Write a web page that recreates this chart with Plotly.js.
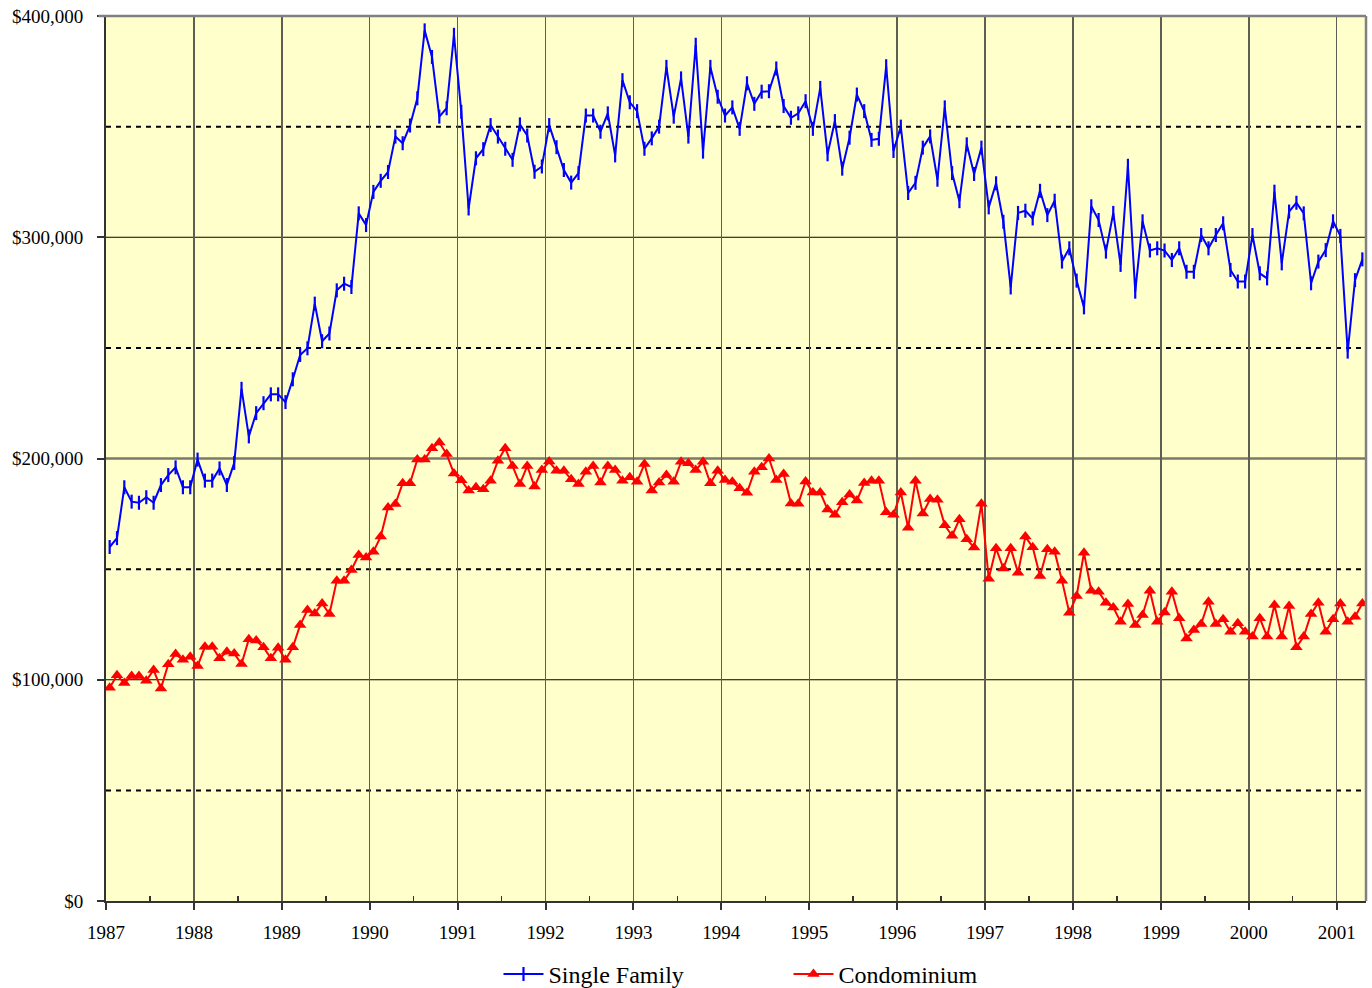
<!DOCTYPE html>
<html>
<head>
<meta charset="utf-8">
<script src="https://cdn.plot.ly/plotly-3.0.1.min.js"></script>
<style>
html,body{margin:0;padding:0;background:#ffffff;}
#chart{width:1372px;height:988px;}
</style>
</head>
<body>
<div id="chart"></div>
<script>
// Monthly median prices (thousands of dollars), Jan 1987 - Apr 2001
const startYear = 1987;

const singleFamily = [
  160, 164, 187, 180.5, 180, 182.5, 180, 188, 192.5, 196, 187, 187,
  199.5, 190, 190, 195.5, 188, 198, 231.5, 210, 220.5, 225, 229, 229,
  225.5, 235.8, 246.8, 249.8, 270, 253, 256.5, 276, 279, 277.5, 310.8, 305.5,
  320.5, 325.5, 329.5, 345.5, 342.5, 350.5, 362.8, 393.5, 381.5, 354.5, 358.3, 391.5,
  356.7, 313, 335.7, 339.8, 350.7, 345.5, 340, 335, 351, 346, 329.6, 332,
  350.7, 340.7, 330.4, 324.7, 329, 355, 355, 347.7, 356, 337, 371, 361,
  357, 340, 344.7, 350, 377, 354.5, 371.8, 345.5, 387, 338.7, 377, 363.5,
  355, 358.7, 349, 369.6, 360.3, 365.8, 366, 376.3, 359.3, 354, 356, 361.5,
  349, 367.5, 337.5, 352.5, 331, 345, 364.5, 357, 344, 344.5, 377.3, 339,
  350, 320, 324.6, 340.5, 345.6, 326, 358.7, 329, 316.3, 342, 328.6, 340.5,
  313.5, 324.4, 307, 277.3, 311, 312, 308.5, 321, 310, 316.5, 289, 295,
  280.4, 268.3, 314, 307.8, 293.5, 311, 287.5, 332.3, 275.4, 307.2, 294, 295,
  294, 289.7, 295, 284.4, 284.4, 301, 295, 301, 306.3, 285.2, 280, 280,
  301, 283.7, 281.4, 320.6, 288.2, 311.6, 315.6, 310.8, 279.2, 289, 294.2, 307.2,
  300.6, 248.3, 280.6, 290
];

const condominium = [
  96.4, 102, 98.5, 101.7, 101.7, 99.6, 104.4, 96.1, 107, 111.6, 109, 110.4,
  106.2, 114.9, 114.9, 109.7, 112.7, 111.9, 107.1, 118.3, 117.7, 114.7, 109.7, 114.5,
  109, 114.7, 124.7, 131.5, 130, 134.5, 129.7, 144.8, 144.8, 149.6, 156.4, 155.3,
  157.9, 164.7, 177.9, 179.4, 188.8, 188.8, 199.6, 199.6, 204.6, 207.2, 202, 193.2,
  190.2, 185.5, 187, 186.1, 190, 199, 204.6, 196.6, 188.5, 196.6, 187.3, 194.8,
  198.6, 194.5, 194.5, 190.6, 188.5, 194, 196.6, 189.1, 196.6, 194.8, 190, 191.5,
  189.5, 197.5, 185.5, 189.2, 192.5, 189.5, 198.5, 197.8, 194.8, 198.5, 188.8, 194.5,
  190.3, 189.5, 186.5, 184.5, 194, 196, 200, 190.3, 193, 179.7, 179.6, 189.6,
  184.6, 184.6, 177, 174.6, 180.2, 183.7, 181, 188.9, 190, 190, 175.7, 174.6,
  184.6, 168.7, 190, 175.1, 181.7, 181.4, 169.8, 165.1, 172.5, 163.5, 159.8, 179.6,
  145.7, 159.4, 150.3, 159.4, 148.4, 164.7, 159.9, 146.9, 159, 157.9, 144.8, 130.3,
  137.9, 157.4, 140.2, 139.8, 134.8, 132.7, 126.2, 134.2, 124.7, 129.3, 140.2, 126.2,
  130.4, 139.8, 127.8, 118.7, 122.5, 125.2, 135.3, 125.2, 127.3, 121.7, 125.5, 121.7,
  119.5, 127.8, 119.5, 133.8, 119.5, 133.3, 114.7, 119.5, 129.7, 134.8, 121.7, 127.3,
  134.5, 126.2, 128.5, 134.5
];

const seriesNames = ["Single Family", "Condominium"];
const xTickYears = [1987,1988,1989,1990,1991,1992,1993,1994,1995,1996,1997,1998,1999,2000,2001];
const yTickValues = [0, 100, 200, 300, 400];
const yTickLabels = ["$0", "$100,000", "$200,000", "$300,000", "$400,000"];

// month centre positions on a continuous year scale
const monthPos = singleFamily.map((_, i) => startYear + (i + 0.5) / 12);
const xEnd = startYear + singleFamily.length / 12;
const midYears = xTickYears.map(y => y + 0.5).filter(v => v < xEnd);

const serif = '"Liberation Serif", "Times New Roman", Times, serif';

const traces = [
  {
    x: monthPos, y: singleFamily, name: seriesNames[0], type: 'scatter', mode: 'lines+markers',
    line: {color: '#0000FF', width: 2},
    marker: {symbol: 'line-ns', size: 10, color: '#0000FF', line: {color: '#0000FF', width: 2.2}},
    hoverinfo: 'skip'
  },
  {
    x: monthPos, y: condominium, name: seriesNames[1], type: 'scatter', mode: 'lines+markers',
    line: {color: '#FF0000', width: 2},
    marker: {symbol: 'triangle-up', size: 11, color: '#FF0000', line: {width: 0}},
    hoverinfo: 'skip'
  }
];

const shapes = [];
[100, 300].forEach(v => shapes.push({type:'line', xref:'paper', yref:'y', x0:0, x1:1, y0:v, y1:v, layer:'below', line:{color:'#000000', width:1}}));
shapes.push({type:'line', xref:'paper', yref:'y', x0:0, x1:1, y0:200, y1:200, layer:'below', line:{color:'#7a7a6a', width:2.5}});
[50, 150, 250, 350].forEach(v => shapes.push({type:'line', xref:'paper', yref:'y', x0:0, x1:1, y0:v, y1:v, layer:'below', line:{color:'#000000', width:2, dash:'5px,5px'}}));
// plot-area border top and right
shapes.push({type:'line', xref:'paper', yref:'paper', x0:-0.006, x1:1, y0:1, y1:1, layer:'above', line:{color:'#808080', width:2.5}});
shapes.push({type:'line', xref:'paper', yref:'paper', x0:1, x1:1, y0:0, y1:1, layer:'above', line:{color:'#808080', width:2.5}});

const layout = {
  width: 1372, height: 988,
  margin: {l: 106, r: 6, t: 16, b: 87, pad: 0, autoexpand: false},
  paper_bgcolor: '#ffffff',
  plot_bgcolor: '#FFFFCC',
  font: {family: serif, size: 19, color: '#000000'},
  showlegend: true,
  xaxis: {
    range: [startYear, xEnd],
    tickmode: 'array', tickvals: xTickYears, ticktext: xTickYears.map(String),
    showgrid: true, gridcolor: '#5e5e52', gridwidth: 1.5,
    ticks: 'outside', ticklen: 7, tickwidth: 2, tickcolor: '#333333',
    showline: true, linecolor: '#333333', linewidth: 2,
    zeroline: false, fixedrange: true, automargin: false,
    ticklabelstandoff: 6,
    minor: {tickvals: midYears, ticks: 'inside', ticklen: 5, tickwidth: 1.5, tickcolor: '#333333', showgrid: false}
  },
  yaxis: {
    range: [0, 400],
    tickmode: 'array', tickvals: yTickValues, ticktext: yTickLabels,
    showgrid: false,
    ticks: 'outside', ticklen: 7, tickwidth: 2, tickcolor: '#333333',
    showline: true, linecolor: '#333333', linewidth: 2,
    zeroline: false, fixedrange: true, automargin: false,
    ticklabelstandoff: 10
  },
  legend: {
    orientation: 'h', x: 0.3115, xanchor: 'left', y: -0.083, yanchor: 'middle',
    font: {family: serif, size: 24, color: '#000000'},
    bgcolor: 'rgba(0,0,0,0)', borderwidth: 0,
    itemwidth: 40,
    entrywidth: 235, entrywidthmode: 'pixels'
  },
  shapes: shapes
};

Plotly.newPlot('chart', traces, layout, {displayModeBar: false, staticPlot: true});
</script>
</body>
</html>
